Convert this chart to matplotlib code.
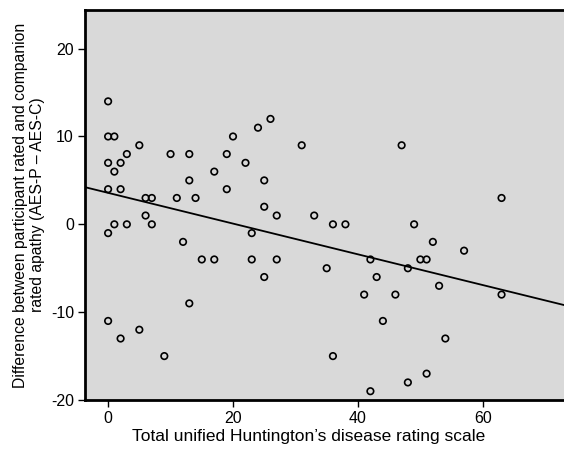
import numpy as np
from matplotlib import pyplot as plt

plt.rcParams['font.family'] = ['Liberation Sans', 'DejaVu Sans']
plt.rcParams['axes.unicode_minus'] = False

# Total UHDRS score vs. AES-P minus AES-C difference
uhdrs = [0, 0, 0, 0, 0, 0,
         1, 1, 1,
         2, 2, 2,
         3, 3,
         5, 5,
         6, 6,
         7, 7,
         9, 10, 11, 12,
         13, 13, 13,
         14, 15,
         17, 17,
         19, 19, 20, 22,
         23, 23, 24,
         25, 25, 25,
         26, 27, 27,
         31, 33, 35,
         36, 36, 38,
         41, 42, 42, 43, 44, 46, 47,
         48, 48, 49, 50,
         51, 51, 52, 53, 54, 57,
         63, 63]
difference = [14, 10, 7, 4, -1, -11,
              10, 6, 0,
              7, 4, -13,
              8, 0,
              9, -12,
              3, 1,
              3, 0,
              -15, 8, 3, -2,
              8, 5, -9,
              3, -4,
              6, -4,
              8, 4, 10, 7,
              -1, -4, 11,
              5, 2, -6,
              12, 1, -4,
              9, 1, -5,
              0, -15, 0,
              -8, -4, -19, -6, -11, -8, 9,
              -5, -18, 0, -4,
              -4, -17, -2, -7, -13, -3,
              3, -8]

x_ticks = [0, 20, 40, 60]
y_ticks = [-20, -10, 0, 10, 20]

fig = plt.figure(figsize=(5.64, 4.5), dpi=100)
ax = fig.add_axes([85 / 564, 50 / 450, 479 / 564, 390 / 450])
ax.set_facecolor('#d9d9d9')

ax.scatter(uhdrs, difference, s=22, facecolors='none', edgecolors='black',
           linewidths=1.2, zorder=3)

# least squares fit line across the full x range
slope, intercept = np.polyfit(uhdrs, difference, 1)
xlim = (-3.7, 73)
line_x = np.array(xlim)
ax.plot(line_x, intercept + slope * line_x, color='black', lw=1.3, zorder=2)

ax.set_xlim(xlim)
ax.set_ylim(-20, 24.4)
ax.set_xticks(x_ticks)
ax.set_yticks(y_ticks)
ax.tick_params(labelsize=11.5, length=5, width=1, pad=3)

for side in ['left', 'bottom', 'top']:
    ax.spines[side].set_linewidth(2)
ax.spines['right'].set_visible(False)

ax.set_xlabel("Total unified Huntington\u2019s disease rating scale",
              fontsize=12.5, labelpad=3)
ax.xaxis.set_label_coords(0.466, -0.075)
ax.set_ylabel("Difference between participant rated and companion\n"
              "rated apathy (AES-P \u2013 AES-C)", fontsize=11.3, labelpad=4,
              linespacing=1.15)

fig.savefig('out.png', dpi=100)
